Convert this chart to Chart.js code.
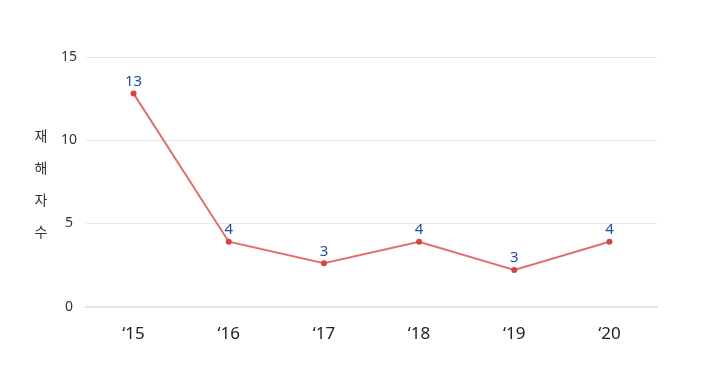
<!DOCTYPE html>
<html>
<head>
<meta charset="utf-8">
<script src="https://cdn.jsdelivr.net/npm/chart.js@4"></script>
<style>
    html, body { margin: 0; padding: 0; background: #fff; }
    #wrap { width: 712px; height: 370px; }
</style>
</head>
<body>
<div id="wrap"><canvas id="chart" width="712" height="370"></canvas></div>
<script>
// Data
const years = ["\u201815", "\u201816", "\u201817", "\u201818", "\u201819", "\u201820"];
const victims = [12.8, 3.9, 2.6, 3.9, 2.2, 3.9];
const pointLabels = ["13", "4", "3", "4", "3", "4"];
const yTicks = [0, 5, 10, 15];
const yTitle = ["재", "해", "자", "수"];

const FONT = "'Noto Sans', 'Noto Sans CJK KR', sans-serif";

// Upright stacked y-axis title + value labels above points
const extraText = {
    id: "extraText",
    afterDatasetsDraw(chart) {
        const ctx = chart.ctx;
        const area = chart.chartArea;
        ctx.save();
        ctx.font = "14px " + FONT;
        ctx.fillStyle = "#333";
        ctx.textAlign = "center";
        ctx.textBaseline = "middle";
        const mid = (area.top + area.bottom) / 2 + 3;
        const step = 32;
        yTitle.forEach((ch, i) => {
            ctx.fillText(ch, 41, mid + (i - (yTitle.length - 1) / 2) * step);
        });

        const meta = chart.getDatasetMeta(0);
        ctx.font = "15px " + FONT;
        ctx.fillStyle = "#1f4e9c";
        meta.data.forEach((pt, i) => {
            ctx.fillText(pointLabels[i], pt.x, pt.y - 12);
        });
        ctx.restore();
    }
};

new Chart(document.getElementById("chart"), {
    type: "line",
    data: {
        labels: years,
        datasets: [{
            data: victims,
            borderColor: "#e07070",
            borderWidth: 2,
            pointBackgroundColor: "#d04545",
            pointBorderColor: "#d04545",
            pointRadius: 3,
            pointBorderWidth: 0,
            tension: 0
        }]
    },
    options: {
        responsive: false,
        animation: false,
        layout: { padding: { left: 50, right: 55, top: 57, bottom: 17 } },
        plugins: {
            legend: { display: false },
            tooltip: { enabled: false }
        },
        scales: {
            x: {
                offset: true,
                grid: { display: false },
                border: { display: true, color: "#e3e3e3", width: 2 },
                ticks: { color: "#222", font: { size: 17, family: FONT }, padding: 9 }
            },
            y: {
                min: 0,
                max: 15,
                afterFit: (scale) => { scale.width = 36; },
                afterBuildTicks: (scale) => { scale.ticks = yTicks.map(v => ({ value: v })); },
                grid: { color: "#e8e8e8", drawTicks: false },
                border: { display: false },
                ticks: {
                    color: "#333",
                    font: { size: 14, family: FONT },
                    crossAlign: "center",
                    padding: 9
                }
            }
        }
    },
    plugins: [extraText]
});
</script>
</body>
</html>
